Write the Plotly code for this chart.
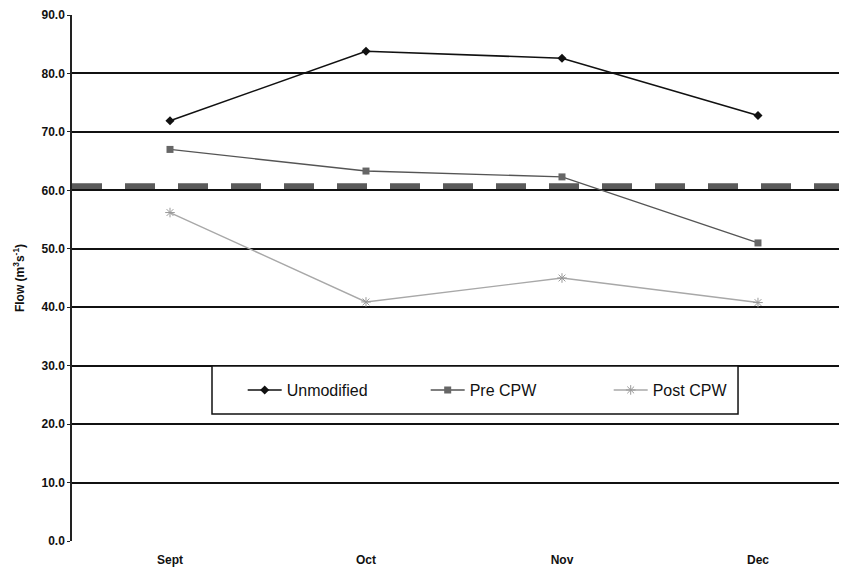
import plotly.graph_objects as go

months = ["Sept", "Oct", "Nov", "Dec"]
unmodified = [71.9, 83.8, 82.6, 72.8]
pre_cpw = [67.0, 63.3, 62.3, 51.0]
post_cpw = [56.2, 40.9, 45.0, 40.8]
reference_flow = 60.6
y_ticks = [0, 10, 20, 30, 40, 50, 60, 70, 80, 90]

fig = go.Figure()

fig.add_trace(go.Scatter(x=months, y=unmodified, name="Unmodified", mode="lines+markers",
                         line=dict(color="#111111", width=1.6),
                         marker=dict(symbol="diamond", size=7, color="#111111")))
fig.add_trace(go.Scatter(x=months, y=pre_cpw, name="Pre CPW", mode="lines+markers",
                         line=dict(color="#555555", width=1.4),
                         marker=dict(symbol="square", size=7, color="#666666")))
fig.add_trace(go.Scatter(x=months, y=post_cpw, name="Post CPW", mode="lines+markers",
                         line=dict(color="#a8a8a8", width=1.4),
                         marker=dict(symbol="asterisk-open", size=8, color="#999999",
                                     line=dict(color="#999999", width=1))))

# reference band at ~60
fig.add_hline(y=reference_flow, line=dict(color="#5a5a5a", width=7, dash="30px,23px"), layer="below")

# legend frame
fig.add_shape(type="rect", xref="paper", yref="paper", x0=0.1788, x1=0.8506, y0=0.2414, y1=0.3327,
              line=dict(color="#111111", width=1.5), fillcolor="white", layer="above")

fig.update_layout(
    width=847, height=573,
    margin=dict(l=64, r=0, t=7, b=40),
    paper_bgcolor="white", plot_bgcolor="white",
    font=dict(family="Liberation Sans, Arial", size=11, color="#111111"),
    showlegend=True,
    legend=dict(orientation="h", x=0.218, xanchor="left", y=0.287, yanchor="middle",
                borderwidth=0, bgcolor="rgba(0,0,0,0)",
                font=dict(size=16, color="#111111"),
                entrywidth=134, itemwidth=34),
    xaxis=dict(range=[-0.5, 3.495], showgrid=False, zeroline=False, showline=False,
               automargin=False, ticklabelstandoff=10,
               ticks="", tickfont=dict(size=12, family="Liberation Sans, Arial", weight="bold")),
    yaxis=dict(range=[0, 90], tickvals=y_ticks, tickformat=".1f", automargin=False,
               showgrid=True, gridcolor="#111111", gridwidth=2,
               zeroline=False, showline=True, linecolor="#222222", linewidth=1.5,
               ticks="outside", ticklen=3, tickcolor="#222222",
               tickfont=dict(size=12, family="Liberation Sans, Arial", weight="bold"),
               title=dict(text="<b>Flow (m<sup>3</sup>s<sup>-1</sup>)</b>", font=dict(size=12), standoff=14)),
)

fig.write_html("out.html")
